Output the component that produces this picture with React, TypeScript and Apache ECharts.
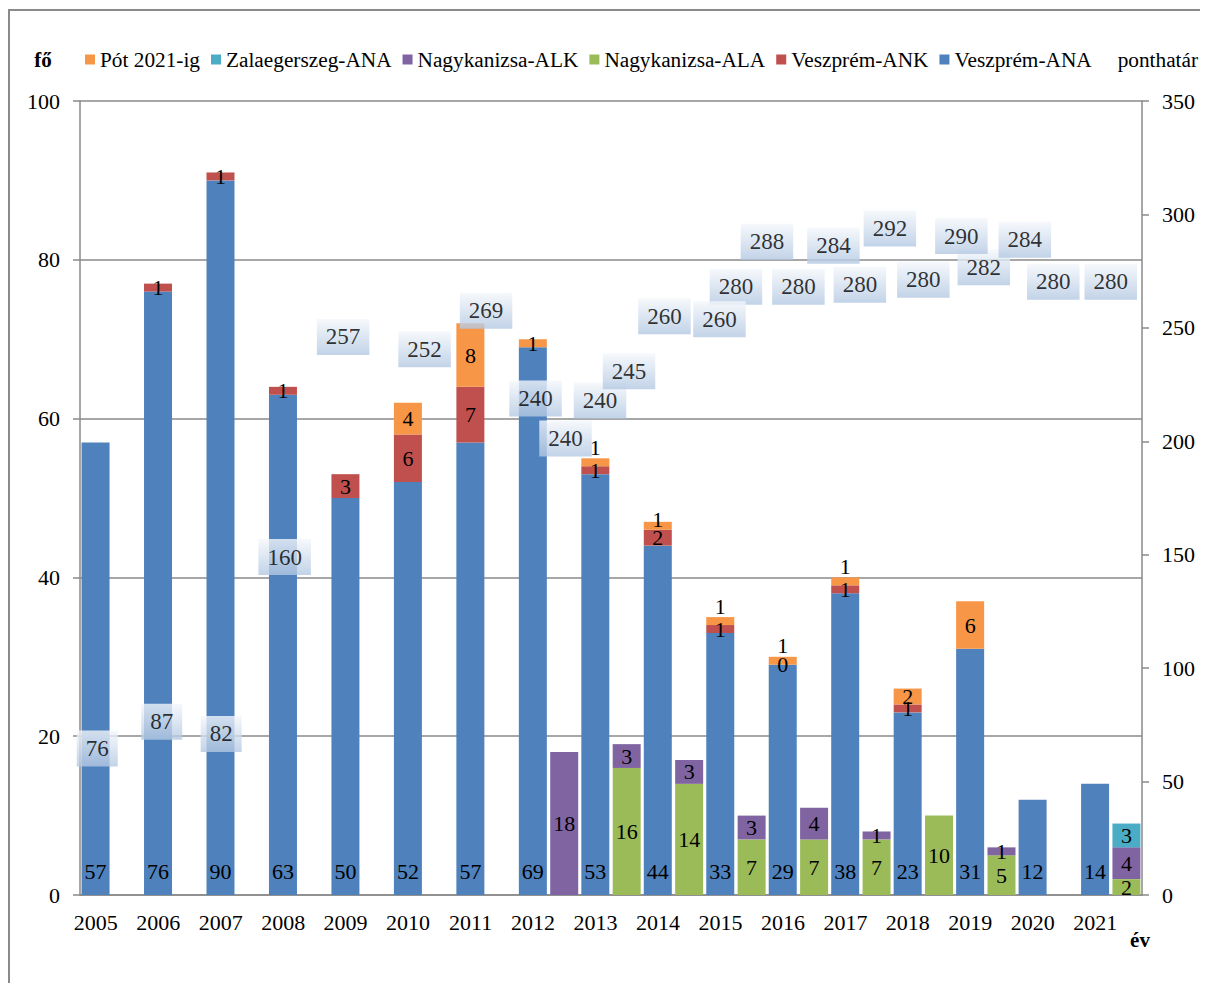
import React, { useEffect, useRef } from "react";
import * as echarts from "echarts";

const years = ["2005", "2006", "2007", "2008", "2009", "2010", "2011", "2012", "2013", "2014", "2015", "2016", "2017", "2018", "2019", "2020", "2021"];

const veszpremANA = [57, 76, 90, 63, 50, 52, 57, 69, 53, 44, 33, 29, 38, 23, 31, 12, 14];
const veszpremANK = [null, 1, 1, 1, 3, 6, 7, null, 1, 2, 1, 0, 1, 1, null, null, null];
const potIg2021 = [null, null, null, null, null, 4, 8, 1, 1, 1, 1, 1, 1, 2, 6, null, null];

const nagykanizsaALA = [null, null, null, null, null, null, null, null, 16, 14, 7, 7, 7, 10, 5, null, 2];
const nagykanizsaALK = [null, null, null, null, null, null, null, 18, 3, 3, 3, 4, 1, null, 1, null, 4];
const zalaegerszegANA = [null, null, null, null, null, null, null, null, null, null, null, null, null, null, null, null, 3];

// ponthatár (two values in some years)
const ponthatarA = [76, 87, 82, 160, 257, 252, 269, 240, 240, 260, 280, 280, 280, 280, 282, 280, 280];
const ponthatarB = [null, null, null, null, null, null, null, 240, 245, 260, 288, 284, 292, 290, 284, null, null];

// label displacements (style only)
const offsetsA: number[][] = [
  [-14, 26], [-12, 24], [-15, 25], [-14, 25], [-18, 25], [1, 26], [0, 26], [-13, 48], [-11, 50],
  [-9, 11], [0, 27], [0, 27], [-1, 25], [0, 20], [-2, 12], [5, 22], [0, 22],
];
const offsetsB: (number[] | null)[] = [
  null, null, null, null, null, null, null, [17, 88], [18, 32], [46, 14], [31, 0], [35, -5], [29, -4], [38, -1], [39, -11], null, null,
];

const FONT = "Liberation Serif";
const GRAY = "#8a8a8a";

export default function App() {
  const ref = useRef<HTMLDivElement>(null);

  useEffect(() => {
    if (!ref.current) return;
    const chart = echarts.init(ref.current, undefined, { renderer: "svg" });

    const barLabel = { show: true, position: "inside", fontSize: 22, color: "#000", fontFamily: FONT };

    const potData = potIg2021.map((v, i) => {
      if (v === null) return null;
      if (i === 8 || i === 10 || i === 11 || i === 12) {
        return { value: v, label: { position: "top", distance: 0 } };
      }
      if (i === 9) return { value: v, label: { position: "inside", offset: [0, -6] } };
      return v;
    });

    const boxBg = new echarts.graphic.LinearGradient(0, 0, 0, 1, [
      { offset: 0, color: "#f4f7fb" },
      { offset: 1, color: "#b3c8e2" },
    ]);

    const pontLabel = {
      show: true,
      position: "inside",
      fontSize: 23,
      color: "#000",
      fontFamily: FONT,
      backgroundColor: boxBg,
      padding: [7, 9, 6, 9],
      formatter: (p: any) => String(p.value[1]),
    };

    const dataA = ponthatarA.map((v, i) => ({ value: [years[i], v], label: { offset: offsetsA[i] } }));
    const dataB = ponthatarB
      .map((v, i) => (v === null ? null : { value: [years[i], v], label: { offset: offsetsB[i] } }))
      .filter((d) => d !== null);

    const option: any = {
      animation: false,
      textStyle: { fontFamily: FONT },
      color: ["#4f81bd", "#c0504d", "#f79646", "#9bbb59", "#8064a2", "#4bacc6"],
      graphic: [
        { type: "rect", shape: { x: 1, y: 2, width: 3000, height: 3000 }, style: { fill: "none", stroke: GRAY, lineWidth: 2 }, silent: true },
        { type: "text", x: 35, y: 52, style: { text: "fő", font: `bold 21px ${FONT}`, fill: "#000", textAlign: "center", textVerticalAlign: "middle" } },
        { type: "text", x: 1132, y: 932, style: { text: "év", font: `bold 21px ${FONT}`, fill: "#000", textAlign: "center", textVerticalAlign: "middle" } },
      ],
      legend: {
        top: 36,
        left: 72,
        width: 1125,
        itemWidth: 10,
        itemHeight: 10,
        itemGap: 11,
        textStyle: { fontSize: 21.3, color: "#000", fontFamily: FONT },
        data: [
          { name: "Pót 2021-ig", icon: "rect" },
          { name: "Zalaegerszeg-ANA", icon: "rect" },
          { name: "Nagykanizsa-ALK", icon: "rect" },
          { name: "Nagykanizsa-ALA", icon: "rect" },
          { name: "Veszprém-ANK", icon: "rect" },
          { name: "Veszprém-ANA", icon: "rect" },
          { name: "ponthatár", icon: "none" },
        ],
      },
      grid: { left: 72, right: 66, top: 93, bottom: 88 },
      xAxis: {
        type: "category",
        data: years,
        axisLine: { lineStyle: { color: GRAY, width: 1.5 } },
        axisTick: { show: false },
        axisLabel: { fontSize: 22, color: "#000", margin: 16, padding: [0, 31, 0, 0], fontFamily: FONT },
      },
      yAxis: [
        {
          type: "value",
          min: 0,
          max: 100,
          interval: 20,
          axisLine: { show: true, lineStyle: { color: GRAY, width: 1.5 } },
          axisTick: { show: true, length: 7, lineStyle: { color: GRAY, width: 1.5 } },
          axisLabel: { fontSize: 22, color: "#000", margin: 20, fontFamily: FONT },
          splitLine: { show: true, lineStyle: { color: GRAY, width: 1.5 } },
        },
        {
          type: "value",
          min: 0,
          max: 350,
          interval: 50,
          position: "right",
          axisLine: { show: true, lineStyle: { color: GRAY, width: 1.5 } },
          axisTick: { show: true, length: 7, lineStyle: { color: GRAY, width: 1.5 } },
          axisLabel: { fontSize: 22, color: "#000", margin: 20, fontFamily: FONT },
          splitLine: { show: false },
        },
      ],
      series: [
        {
          name: "Veszprém-ANA",
          type: "bar",
          stack: "v",
          barWidth: 28,
          barGap: "12%",
          data: veszpremANA,
          itemStyle: { color: "#4f81bd" },
          label: { ...barLabel, position: "insideBottom", distance: 13 },
        },
        { name: "Veszprém-ANK", type: "bar", stack: "v", barWidth: 28, data: veszpremANK, itemStyle: { color: "#c0504d" }, label: barLabel },
        { name: "Pót 2021-ig", type: "bar", stack: "v", barWidth: 28, data: potData, itemStyle: { color: "#f79646" }, label: barLabel },
        { name: "Nagykanizsa-ALA", type: "bar", stack: "n", barWidth: 28, data: nagykanizsaALA, itemStyle: { color: "#9bbb59" }, label: barLabel },
        { name: "Nagykanizsa-ALK", type: "bar", stack: "n", barWidth: 28, data: nagykanizsaALK, itemStyle: { color: "#8064a2" }, label: barLabel },
        { name: "Zalaegerszeg-ANA", type: "bar", stack: "n", barWidth: 28, data: zalaegerszegANA, itemStyle: { color: "#4bacc6" }, label: barLabel },
        {
          name: "ponthatár",
          type: "scatter",
          yAxisIndex: 1,
          symbolSize: 1,
          itemStyle: { color: "rgba(0,0,0,0)" },
          label: pontLabel,
          data: dataA,
          z: 5,
        },
        {
          name: "ponthatár",
          type: "scatter",
          yAxisIndex: 1,
          symbolSize: 1,
          itemStyle: { color: "rgba(0,0,0,0)" },
          label: pontLabel,
          data: dataB,
          z: 5,
        },
      ],
    };

    chart.setOption(option);
    return () => chart.dispose();
  }, []);

  return <div ref={ref} style={{ width: 1200, height: 975 }} />;
}
